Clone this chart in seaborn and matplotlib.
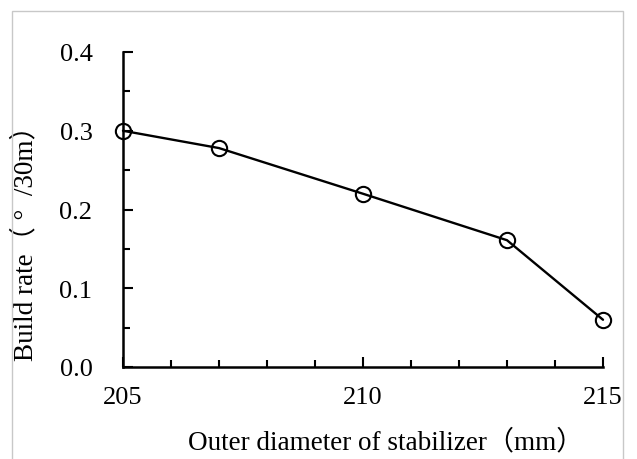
import matplotlib
matplotlib.use("Agg")
import matplotlib.pyplot as plt
import seaborn as sns
import pandas as pd
from matplotlib.patches import Rectangle
from matplotlib.ticker import MultipleLocator

diameter = [205, 207, 210, 213, 215]
build_rate = [0.300, 0.278, 0.220, 0.161, 0.060]
x_ticks = [205, 210, 215]
y_ticks = [0.0, 0.1, 0.2, 0.3, 0.4]

sns.set_theme(style="ticks")
plt.rcParams['font.family'] = ['Liberation Serif', 'Noto Sans CJK SC']

df = pd.DataFrame({"d": diameter, "r": build_rate})

fig = plt.figure(figsize=(6.37, 4.6), dpi=100)
ax = fig.add_axes([123/637, 1-368/460, (603-123)/637, (368-53)/460])

sns.lineplot(data=df, x="d", y="r", ax=ax, color="black", linewidth=1.7,
             marker="o", markersize=11, markerfacecolor="none",
             markeredgecolor="black", markeredgewidth=1.5, clip_on=False)

ax.set_xlim(205, 215)
ax.set_ylim(0, 0.4)
ax.set_xticks(x_ticks)
ax.set_xticklabels([str(t) for t in x_ticks])
ax.set_yticks(y_ticks)
ax.set_yticklabels([f"{t:.1f}" for t in y_ticks])
ax.xaxis.set_minor_locator(MultipleLocator(1))
ax.yaxis.set_minor_locator(MultipleLocator(0.05))

for s in ["top", "right"]:
    ax.spines[s].set_visible(False)
for s in ["left", "bottom"]:
    ax.spines[s].set_linewidth(1.8)
    ax.spines[s].set_color("black")

ax.tick_params(axis="both", which="both", direction="in", width=1.5, colors="black")
ax.tick_params(axis="both", which="major", length=7, labelsize=19)
ax.tick_params(axis="both", which="minor", length=5)
ax.tick_params(axis="y", which="major", pad=22)
ax.tick_params(axis="x", which="major", pad=14)

ax.set_xlabel("Outer diameter of stabilizer（mm）", fontsize=19.5, color="black")
ax.set_ylabel("Build rate（ °  /30m）", fontsize=19.5, color="black")
ax.xaxis.set_label_coords((386-123)/480, (368-443)/315)
ax.xaxis.label.set_va("center")
ax.yaxis.set_label_coords((26-123)/480, (368-237)/315)
ax.yaxis.label.set_va("center")

fig.patches.append(Rectangle((12/637, -0.01), (623-12)/637, 1-12/460+0.01,
                             transform=fig.transFigure, fill=False,
                             edgecolor="#c8c8c8", linewidth=1.0))

fig.savefig("out.png", dpi=100, facecolor="white")
